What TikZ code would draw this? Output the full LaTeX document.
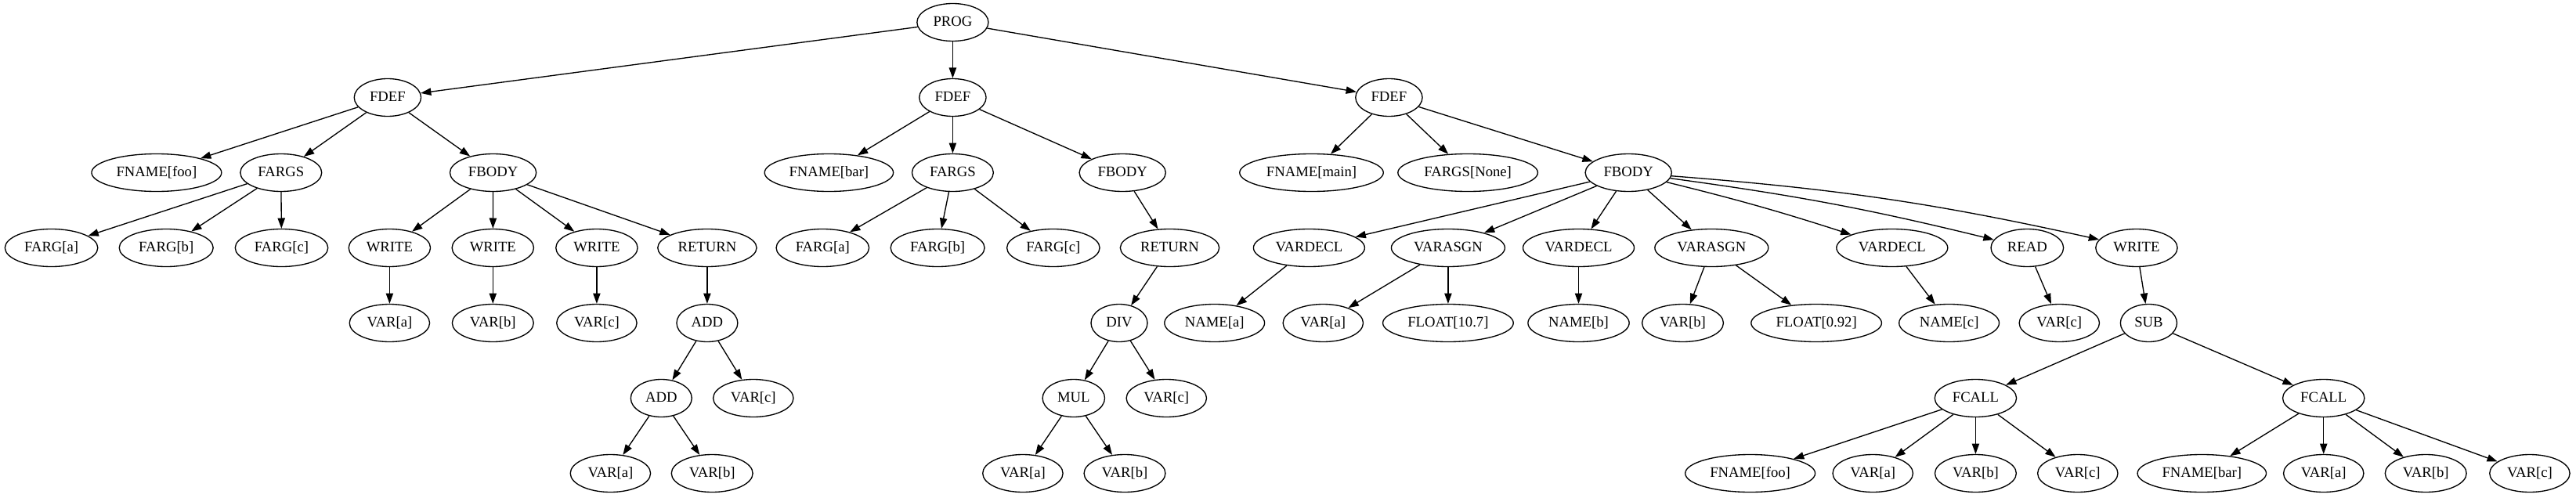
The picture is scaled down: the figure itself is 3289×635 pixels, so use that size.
\documentclass[tikz,border=0pt]{standalone}
\usepackage{fontspec}
\setmainfont{Liberation Serif}
\usepackage{tikz}
\usetikzlibrary{arrows.meta, shapes.geometric}

\begin{document}
\begin{tikzpicture}[x=0.75pt, y=-0.75pt,
  astnode/.style={draw, ellipse, line width=1pt, inner xsep=5.5pt, inner ysep=2pt,
    minimum height=36pt, minimum width=54pt, text height=10pt, text depth=3pt,
    font=\fontsize{14pt}{16pt}\selectfont},
  link/.style={draw, line width=1pt, -{Triangle[length=10pt,width=7pt]}}]
\useasboundingbox (0, 0) rectangle (3289, 635);
% nodes: name / label / x / rank
\foreach \n/\t/\x/\r in {
  prog/PROG/1216.4/0,
  fdefA/FDEF/494.9/1, fdefB/FDEF/1216.4/1, fdefC/FDEF/1773.4/1,
  fnA/FNAME[foo]/199.9/2, fargsA/FARGS/358.8/2, fbodyA/FBODY/629.6/2,
  fnB/FNAME[bar]/1058.4/2, fargsB/FARGS/1216.4/2, fbodyB/FBODY/1433.2/2,
  fnC/FNAME[main]/1674.5/2, fargsC/FARGS[None]/1874.1/2, fbodyC/FBODY/2079.2/2,
  fargAa/FARG[a]/65.6/3, fargAb/FARG[b]/212.2/3, fargAc/FARG[c]/359.5/3,
  wrA1/WRITE/497.4/3, wrA2/WRITE/629.3/3, wrA3/WRITE/761.9/3, retA/RETURN/902.9/3,
  fargBa/FARG[a]/1050.3/3, fargBb/FARG[b]/1197.1/3, fargBc/FARG[c]/1344.8/3,
  retB/RETURN/1493.5/3, vdA/VARDECL/1671.4/3, vaA/VARASGN/1848.9/3,
  vdB/VARDECL/2015.5/3, vaB/VARASGN/2185.3/3, vdC/VARDECL/2415.8/3,
  rd/READ/2588.3/3, wrC/WRITE/2727.9/3,
  vA1/VAR[a]/497.4/4, vA2/VAR[b]/629.3/4, vA3/VAR[c]/761.9/4, addA/ADD/902.9/4,
  div/DIV/1429/4, nmA/NAME[a]/1550.7/4, vC1/VAR[a]/1689.3/4, flA/FLOAT[10.7]/1848.9/4,
  nmB/NAME[b]/2015.5/4, vC2/VAR[b]/2148.5/4, flB/FLOAT[0.92]/2319.1/4,
  nmC/NAME[c]/2488.6/4, vC3/VAR[c]/2629.3/4, sub/SUB/2743.4/4,
  addB/ADD/844.3/5, vA4/VAR[c]/961.8/5, mul/MUL/1370.8/5, vB1/VAR[c]/1489.3/5,
  fcA/FCALL/2522.4/5, fcB/FCALL/2966.7/5,
  vA5/VAR[a]/779.4/6, vA6/VAR[b]/909.2/6, vB2/VAR[a]/1305.9/6, vB3/VAR[b]/1436/6,
  fnD/FNAME[foo]/2234.6/6, vD1/VAR[a]/2391.2/6, vD2/VAR[b]/2522.4/6, vD3/VAR[c]/2652.8/6,
  fnE/FNAME[bar]/2811.3/6, vE1/VAR[a]/2966.7/6, vE2/VAR[b]/3097.2/6, vE3/VAR[c]/3229.9/6}
  \node[astnode] (\n) at (\x, {28.5+96*\r}) {\t};
% edges
\foreach \a/\b in {prog/fdefA, prog/fdefB, prog/fdefC,
  fdefA/fnA, fdefA/fargsA, fdefA/fbodyA,
  fargsA/fargAa, fargsA/fargAb, fargsA/fargAc,
  fbodyA/wrA1, fbodyA/wrA2, fbodyA/wrA3, fbodyA/retA,
  wrA1/vA1, wrA2/vA2, wrA3/vA3, retA/addA,
  addA/addB, addA/vA4, addB/vA5, addB/vA6,
  fdefB/fnB, fdefB/fargsB, fdefB/fbodyB,
  fargsB/fargBa, fargsB/fargBb, fargsB/fargBc,
  fbodyB/retB, retB/div, div/mul, div/vB1, mul/vB2, mul/vB3,
  fdefC/fnC, fdefC/fargsC, fdefC/fbodyC,
  fbodyC/vdA, fbodyC/vaA, fbodyC/vdB, fbodyC/vaB,
  vdA/nmA, vaA/vC1, vaA/flA, vdB/nmB, vaB/vC2, vaB/flB,
  vdC/nmC, rd/vC3, wrC/sub, sub/fcA, sub/fcB,
  fcA/fnD, fcA/vD1, fcA/vD2, fcA/vD3,
  fcB/fnE, fcB/vE1, fcB/vE2, fcB/vE3}
  \draw[link] (\a) -- (\b);
\draw[link] (fbodyC) to[bend left=2] (vdC);
\draw[link] (fbodyC) to[bend left=3] (rd);
\draw[link] (fbodyC) to[bend left=4] (wrC);
\end{tikzpicture}
\end{document}
